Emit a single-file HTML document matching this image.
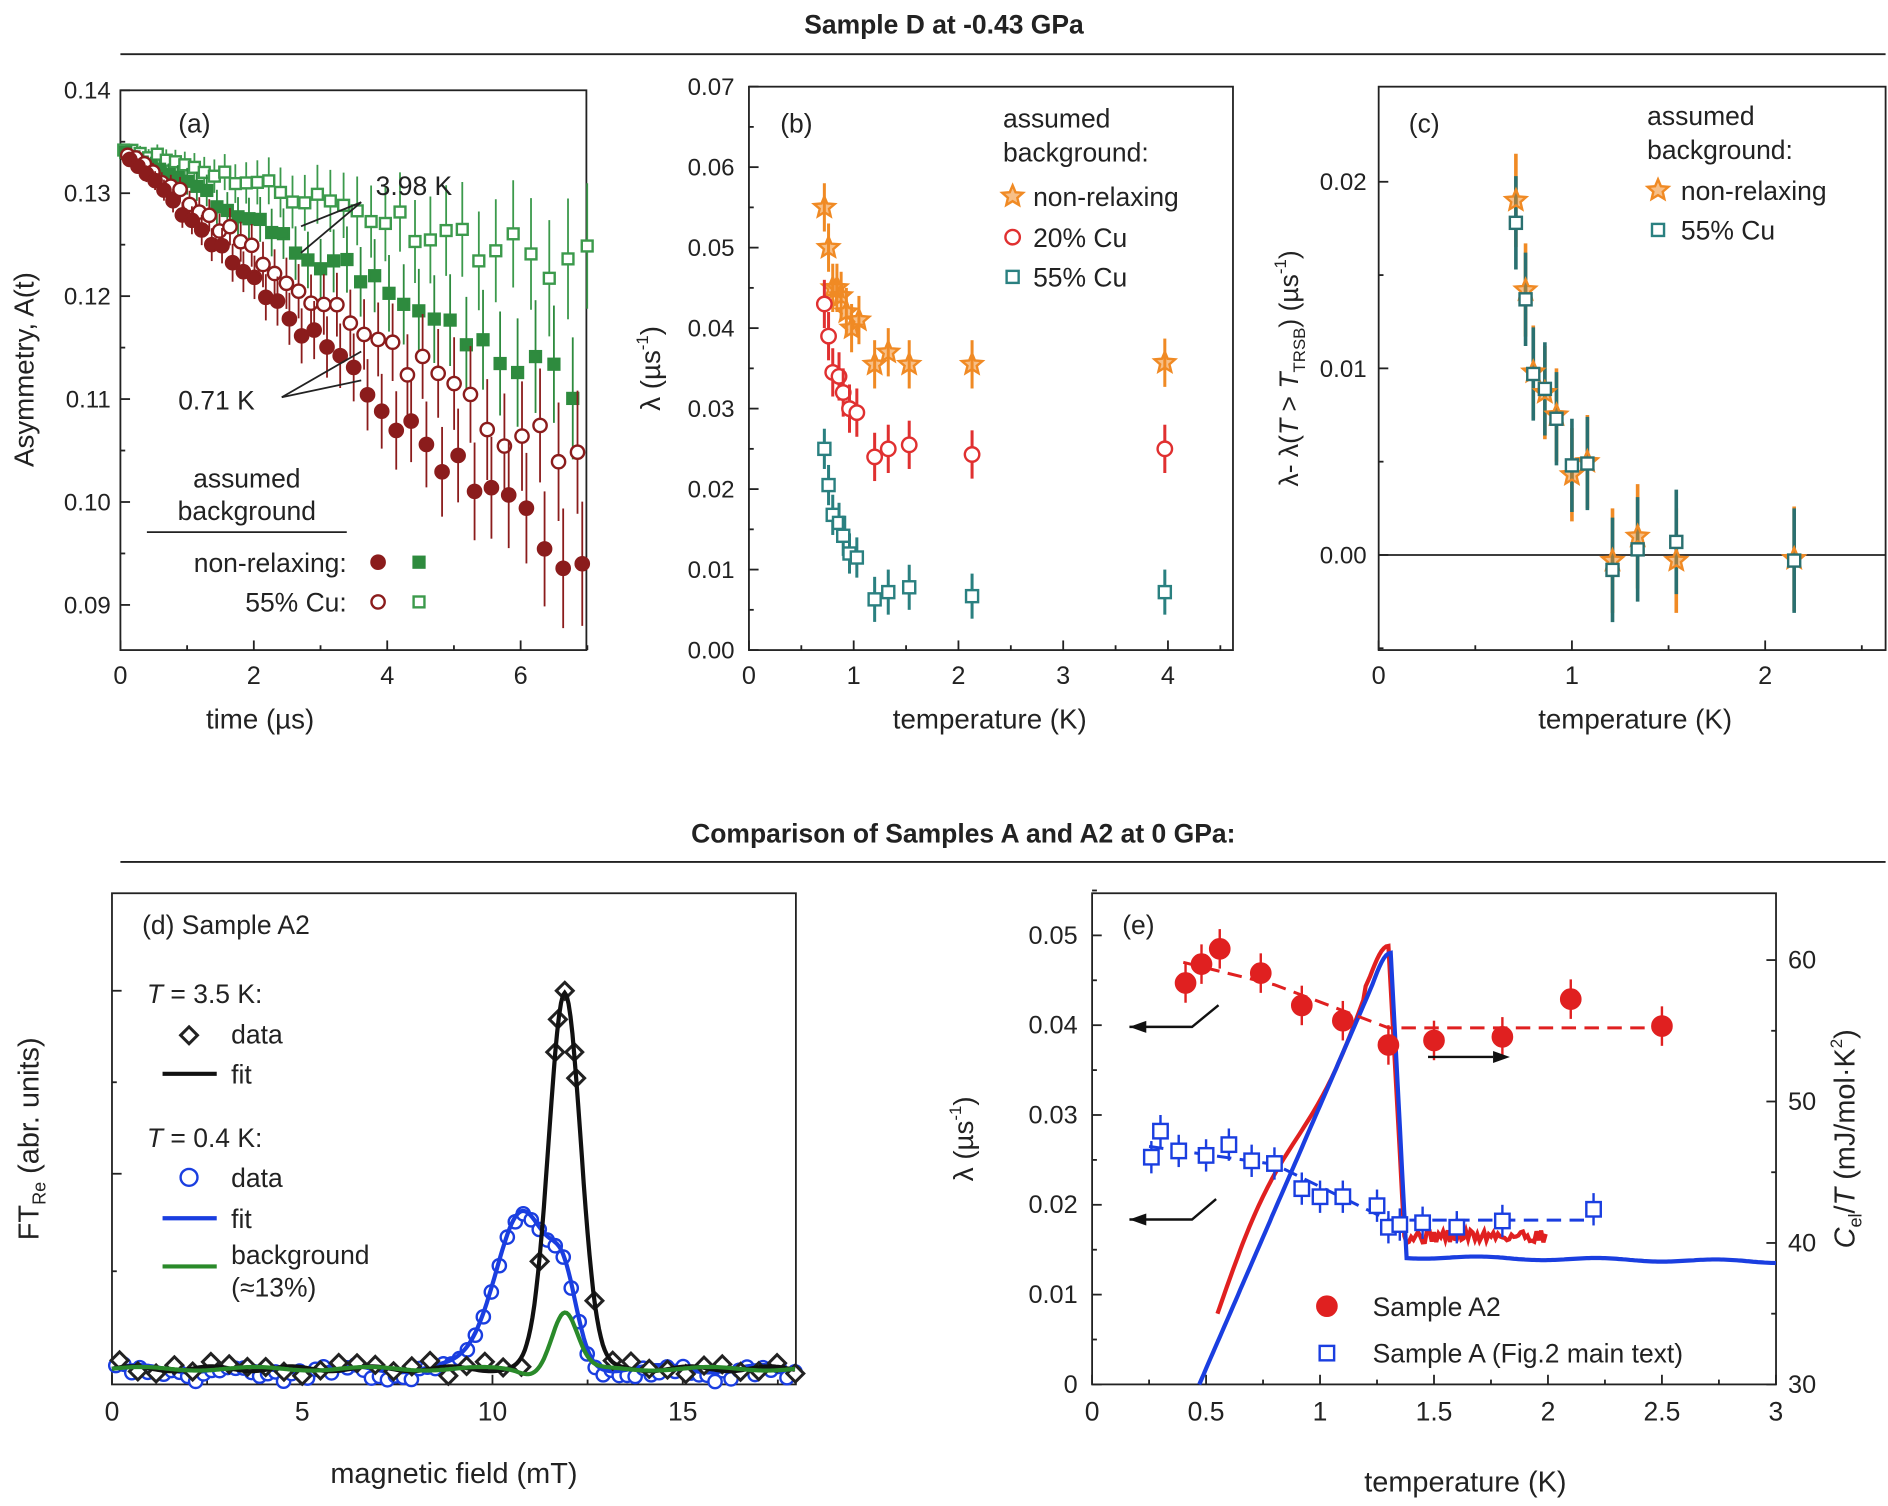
<!DOCTYPE html>
<html><head><meta charset="utf-8"><style>
html,body{margin:0;padding:0;background:#fff}
svg{display:block}
text{font-family:"Liberation Sans",Arial,sans-serif;fill:#222}
</style></head><body>
<svg id="s" width="1888" height="1506" viewBox="0 0 1568 1251" preserveAspectRatio="none" xmlns="http://www.w3.org/2000/svg">
<g font-size="22">
<text x="784" y="28" text-anchor="middle" font-weight="bold" font-size="22">Sample D at -0.43 GPa</text>
<line x1="100" y1="45" x2="1566" y2="45" stroke="#222" stroke-width="1.5"/>
<text x="800" y="700" text-anchor="middle" font-weight="bold" font-size="22">Comparison of Samples A and A2 at 0 GPa:</text>
<line x1="100" y1="716" x2="1566" y2="716" stroke="#222" stroke-width="1.5"/>
</g>
<g id="g"></g>
</svg>
<script>
var G=document.getElementById('g'),out='';
function a(s){out+=s;}
var seed=7;function rnd(){seed=(seed*16807)%2147483647;return seed/2147483647;}
function frame(x0,y0,x1,y1){a('<rect x="'+x0+'" y="'+y0+'" width="'+(x1-x0)+'" height="'+(y1-y0)+'" fill="none" stroke="#222" stroke-width="1.5"/>');}
function t(x,y,s,opt){a('<text x="'+x+'" y="'+y+'" '+(opt||'')+'>'+s+'</text>');}
function ln(x1,y1,x2,y2,c,w,extra){a('<line x1="'+x1+'" y1="'+y1+'" x2="'+x2+'" y2="'+y2+'" stroke="'+(c||'#222')+'" stroke-width="'+(w||1.5)+'" '+(extra||'')+'/>');}
function circ(x,y,r,c,fill){a('<circle cx="'+x+'" cy="'+y+'" r="'+r+'" fill="'+(fill?c:'#fff')+'" stroke="'+c+'" stroke-width="2"/>');}
function sq(x,y,h,c,fill){a('<rect x="'+(x-h)+'" y="'+(y-h)+'" width="'+2*h+'" height="'+2*h+'" fill="'+(fill?c:'#fff')+'" stroke="'+c+'" stroke-width="2"/>');}
function star(x,y,r,c){var p=[];for(var i=0;i<10;i++){var rr=i%2?r*0.45:r,an=-Math.PI/2+i*Math.PI/5;p.push((x+rr*Math.cos(an)).toFixed(1)+','+(y+rr*Math.sin(an)).toFixed(1));}a('<polygon points="'+p.join(' ')+'" fill="'+c+'" fill-opacity="0.55" stroke="'+c+'" stroke-width="2"/>');}
function diam(x,y,r,c){a('<polygon points="'+x+','+(y-r)+' '+(x+r)+','+y+' '+x+','+(y+r)+' '+(x-r)+','+y+'" fill="#fff" stroke="'+c+'" stroke-width="2.5"/>');}
function path(pts,c,w,extra){a('<polyline points="'+pts.map(function(p){return p[0].toFixed(1)+','+p[1].toFixed(1)}).join(' ')+'" fill="none" stroke="'+c+'" stroke-width="'+w+'" '+(extra||'')+'/>');}

/* ---------- (a) ---------- */
var AX=function(v){return 100+v*55.4},AY=function(v){return 75+(0.14-v)*8550};
frame(100,75,487,540);
[0,2,4,6].forEach(function(v){ln(AX(v),540,AX(v),532);t(AX(v),568,v,'text-anchor="middle" font-size="21"');});
[1,3,5,7].forEach(function(v){ln(AX(v),540,AX(v),536);});
[0.14,0.13,0.12,0.11,0.10,0.09].forEach(function(v){ln(100,AY(v),108,AY(v));t(92,AY(v)+7,v.toFixed(2),'text-anchor="end" font-size="20"');});
[0.135,0.125,0.115,0.105,0.095].forEach(function(v){ln(100,AY(v),104,AY(v));});
t(216,605,'time (µs)','text-anchor="middle" font-size="23"');
t(28,307,'Asymmetry, A(t)','text-anchor="middle" font-size="23" transform="rotate(-90 28 307)"');
t(148,110,'(a)','font-size="22"');
var ser=[[0.0132,'#3c9a4c',0,'sq'],[0.028,'#2e8b3e',1,'sq'],[0.039,'#8b1c1c',0,'c'],[0.052,'#8b1c1c',1,'c']];
ser.forEach(function(s,k){var tt=0.05+k*0.03;seed=11+k*5;while(tt<7){var v=0.1345*Math.exp(-s[0]*tt);var e=0.0005+0.0008*tt;v+=(rnd()-0.5)*e*0.8;var x=AX(tt),y=AY(v);ln(x,AY(v+e),x,AY(v-e),s[1],1.5);if(s[3]=='sq')sq(x,y,4.5,s[1],s[2]);else circ(x,y,5.5,s[1],s[2]);tt+=0.12+0.025*tt;}});
t(312,162,'3.98 K','font-size="22"');ln(300,168,250,188);ln(300,168,250,210);
t(148,340,'0.71 K','font-size="22"');ln(234,330,300,292);ln(234,330,300,316);
t(205,405,'assumed','text-anchor="middle" font-size="22"');t(205,432,'background','text-anchor="middle" font-size="22"');
ln(122,442,288,442);
t(288,475,'non-relaxing:','text-anchor="end" font-size="22"');t(288,508,'55% Cu:','text-anchor="end" font-size="22"');
circ(314,467,5.5,'#8b1c1c',1);sq(348,467,4.5,'#2e8b3e',1);circ(314,500,5.5,'#8b1c1c',0);sq(348,500,4.5,'#3c9a4c',0);

/* ---------- (b) ---------- */
var BX=function(v){return 622+v*87},BY=function(v){return 540-v*6686};
frame(622,72,1024,540);
[0,1,2,3,4].forEach(function(v){ln(BX(v),540,BX(v),532);t(BX(v),568,v,'text-anchor="middle" font-size="21"');});
[0.5,1.5,2.5,3.5,4.5].forEach(function(v){ln(BX(v),540,BX(v),536);});
for(var i=0;i<=7;i++){var v=i/100;ln(622,BY(v),630,BY(v));t(610,BY(v)+7,v.toFixed(2),'text-anchor="end" font-size="20"');if(i<7)ln(622,BY(v+0.005),626,BY(v+0.005));}
t(822,605,'temperature (K)','text-anchor="middle" font-size="23"');
a('<text x="548" y="306" text-anchor="middle" font-size="23" transform="rotate(-90 548 306)">λ (µs<tspan font-size="14" dy="-10">-1</tspan><tspan dy="10">)</tspan></text>');
t(648,110,'(b)','font-size="22"');
t(833,106,'assumed','font-size="22"');t(833,134,'background:','font-size="22"');
star(841,163,9,'#f08a24');t(858,171,'non-relaxing','font-size="22"');
circ(841,197,6,'#e03030',0);t(858,205,'20% Cu','font-size="22"');
sq(841,230,5,'#2a8080',0);t(858,238,'55% Cu','font-size="22"');
var Ts=[0.72,0.76,0.80,0.84,0.88,0.93,0.98,1.05,1.2,1.33,1.53,2.13,3.97];
var So=[0.055,0.050,0.045,0.045,0.044,0.042,0.040,0.041,0.0355,0.037,0.0355,0.0355,0.0357];
var Tr=[0.72,0.76,0.80,0.86,0.90,0.96,1.03,1.2,1.33,1.53,2.13,3.97];
var Sr=[0.043,0.039,0.0345,0.034,0.032,0.030,0.0295,0.024,0.025,0.0255,0.0243,0.025];
var St=[0.025,0.0205,0.0168,0.0158,0.0142,0.012,0.0115,0.0063,0.0072,0.0078,0.0067,0.0072];
Ts.forEach(function(T,i){ln(BX(T),BY(So[i]+0.003),BX(T),BY(So[i]-0.003),'#f08a24',2.5);star(BX(T),BY(So[i]),9,'#f08a24');});
Tr.forEach(function(T,i){ln(BX(T),BY(Sr[i]+0.003),BX(T),BY(Sr[i]-0.003),'#e03030',2.5);circ(BX(T),BY(Sr[i]),6,'#e03030',0);});
Tr.forEach(function(T,i){var e=i>6?0.0028:0.0025;ln(BX(T),BY(St[i]+e),BX(T),BY(St[i]-e),'#2a8080',2.5);sq(BX(T),BY(St[i]),5,'#2a8080',0);});

/* ---------- (c) ---------- */
var CX=function(v){return 1145+v*160.5},CY=function(v){return 461-v*15500};
frame(1145,72,1566,540);
[0,1,2].forEach(function(v){ln(CX(v),540,CX(v),532);t(CX(v),568,v,'text-anchor="middle" font-size="21"');});
[0.5,1.5,2.5].forEach(function(v){ln(CX(v),540,CX(v),536);});
[0,0.01,0.02].forEach(function(v){ln(1145,CY(v),1153,CY(v));t(1135,CY(v)+7,v.toFixed(2),'text-anchor="end" font-size="20"');});
[-0.005,0.005,0.015].forEach(function(v){ln(1145,CY(v),1149,CY(v));});
ln(1145,461,1566,461,'#222',1.5);
t(1358,605,'temperature (K)','text-anchor="middle" font-size="23"');
a('<text x="1078" y="306" text-anchor="middle" font-size="22" transform="rotate(-90 1078 306)">λ- λ(<tspan font-style="italic">T</tspan> &gt; <tspan font-style="italic">T</tspan><tspan font-size="14" dy="6">TRSB</tspan><tspan dy="-6">) (µs</tspan><tspan font-size="14" dy="-10">-1</tspan><tspan dy="10">)</tspan></text>');
t(1170,110,'(c)','font-size="22"');
t(1368,104,'assumed','font-size="22"');t(1368,132,'background:','font-size="22"');
star(1377,158,9,'#f08a24');t(1396,166,'non-relaxing','font-size="22"');
sq(1377,191,5,'#2a8080',0);t(1396,199,'55% Cu','font-size="22"');
var Tc=[0.71,0.76,0.80,0.86,0.92,1.0,1.08,1.21,1.34,1.54,2.15];
var Cs=[0.019,0.0142,0.0098,0.0087,0.0075,0.0043,0.0050,-0.0003,0.001,-0.0003,-0.0002];
var Cq=[0.0178,0.0137,0.0097,0.0089,0.0073,0.0048,0.0049,-0.0008,0.0003,0.0007,-0.0003];
Tc.forEach(function(T,i){var e=0.0025+(i>6?0.0003:0);ln(CX(T),CY(Cs[i]+e),CX(T),CY(Cs[i]-e),'#f08a24',3);});
Tc.forEach(function(T,i){var e=0.0025+(i>6?0.0003:0);ln(CX(T),CY(Cq[i]+e),CX(T),CY(Cq[i]-e),'#2a7070',3);});
Tc.forEach(function(T,i){star(CX(T),CY(Cs[i]),9,'#f08a24');});
Tc.forEach(function(T,i){sq(CX(T),CY(Cq[i]),5,'#2a7070',0);});

/* ---------- (d) ---------- */
var DX=function(v){return 93+v*31.6};
frame(93,742,661,1150);
[0,5,10,15].forEach(function(v){ln(DX(v),1150,DX(v),1142);t(DX(v),1180,v,'text-anchor="middle" font-size="22"');});
[2.5,7.5,12.5,17.5].forEach(function(v){ln(DX(v),1150,DX(v),1146);});
[823,975,1137].forEach(function(y){ln(93,y,101,y);});[899,1056].forEach(function(y){ln(93,y,97,y);});
t(377,1232,'magnetic field (mT)','text-anchor="middle" font-size="24"');
a('<text x="32" y="946" text-anchor="middle" font-size="24" transform="rotate(-90 32 946)">FT<tspan font-size="15" dy="6">Re</tspan><tspan dy="-6"> (abr. units)</tspan></text>');
t(118,776,'(d) Sample A2','font-size="22"');
a('<text x="122" y="833" font-size="22"><tspan font-style="italic">T</tspan> = 3.5 K:</text>');
diam(157,860,7,'#222');t(192,867,'data','font-size="22"');
ln(135,892,180,892,'#111',3.5);t(192,900,'fit','font-size="22"');
a('<text x="122" y="953" font-size="22"><tspan font-style="italic">T</tspan> = 0.4 K:</text>');
circ(157,978,7,'#1a3ee0',0);t(192,986,'data','font-size="22"');
ln(135,1012,180,1012,'#1a3ee0',3.5);t(192,1020,'fit','font-size="22"');
ln(135,1052,180,1052,'#2a8a2a',3.5);t(192,1050,'background','font-size="22"');t(192,1077,'(≈13%)','font-size="22"');
var base=1137;
function gB(x){return 314*Math.exp(-Math.pow((x-11.9)/0.42,2)/2);}
function gG(x){return 47*Math.exp(-Math.pow((x-11.9)/0.33,2)/2)-4*Math.exp(-Math.pow((x-11.0)/0.3,2)/2);}
function gL(x){return 135*Math.exp(-Math.pow((x-10.8)/0.72,2)/2)+gG(x)+3*Math.sin(x*2.3);}
var pb=[],pg=[],pl=[];
for(var x=0;x<=18;x+=0.05){pb.push([DX(x),base-gB(x)-2*Math.sin(x*3)]);pg.push([DX(x),base-gG(x)-1.5*Math.sin(x*2.1)]);pl.push([DX(x),base-gL(x)]);}
seed=99;
for(var x=0.1;x<18;x+=0.21){var n=(rnd()-0.5)*10;circ(DX(x),base-gL(x)+n*(x>9&&x<13?0.3:1)+3,5.5,'#1a3ee0',0);}
path(pl,'#1a3ee0',3.5);
seed=5;
for(var x=0.2;x<18;x+=0.48){var n=(rnd()-0.5)*14;diam(DX(x),base-gB(x)+n,7,'#222');}
[11.65,12.15,11.9].forEach(function(x){diam(DX(x),base-gB(x),7,'#222');});
path(pb,'#111',3.5);path(pg,'#2a8a2a',3.5);

/* ---------- (e) ---------- */
var EX=function(v){return 907+v*189.3},EY=function(v){return 1150-v*7460},ER=function(v){return 1150-(v-30)*11.75};
frame(907,742,1475,1150);
[0,0.5,1,1.5,2,2.5,3].forEach(function(v){ln(EX(v),1150,EX(v),1142);t(EX(v),1180,v,'text-anchor="middle" font-size="22"');});
[0.25,0.75,1.25,1.75,2.25,2.75].forEach(function(v){ln(EX(v),1150,EX(v),1146);});
for(var i=0;i<=5;i++){var v=i/100;ln(907,EY(v),915,EY(v));t(895,EY(v)+7,i?v.toFixed(2):'0','text-anchor="end" font-size="21"');ln(907,EY(v+0.005),911,EY(v+0.005));}
[30,40,50,60].forEach(function(v){ln(1475,ER(v),1467,ER(v));t(1485,ER(v)+7,v,'font-size="21"');});
[35,45,55].forEach(function(v){ln(1475,ER(v),1471,ER(v));});
t(1217,1239,'temperature (K)','text-anchor="middle" font-size="24"');
a('<text x="808" y="946" text-anchor="middle" font-size="23" transform="rotate(-90 808 946)">λ (µs<tspan font-size="14" dy="-10">-1</tspan><tspan dy="10">)</tspan></text>');
a('<text x="1540" y="946" text-anchor="middle" font-size="24" transform="rotate(-90 1540 946)"><tspan font-style="italic">C</tspan><tspan font-size="15" dy="6">el</tspan><tspan dy="-6">/</tspan><tspan font-style="italic">T</tspan> (mJ/mol·K<tspan font-size="14" dy="-10">2</tspan><tspan dy="10">)</tspan></text>');
t(932,776,'(e)','font-size="22"');
// Cel/T curves
function peakCurve(T0,v0,Tp,vp,Td,vf){return function(T){if(T<Tp-0.06)return v0+(T-T0)/(Tp-T0)*(vp-v0);if(T<Tp+0.02){var u=(T-(Tp-0.06))/0.08;return v0+(Tp-0.06-T0)/(Tp-T0)*(vp-v0)+(vp-(v0+(Tp-0.06-T0)/(Tp-T0)*(vp-v0)))*Math.sin(u*Math.PI/2);}if(T<Td)return vp-(T-Tp-0.02)/(Td-Tp-0.02)*(vp-vf);return vf;};}
var fr=peakCurve(0.55,35,1.28,61,1.37,40.5),fb=peakCurve(0.47,30,1.29,60.5,1.38,39);
var rc=[],bc=[];seed=31;
for(var T=0.55;T<=2.0;T+=0.01){var v=fr(T);if(T<1.2)v+=1.2*Math.sin((T-0.55)*9);if(T>1.38)v+=(rnd()-0.5)*1.0;rc.push([EX(T),ER(v)]);}
for(var T=0.47;T<=3.0;T+=0.01){var v=fb(T);if(T>1.38)v=39-(T-1.4)*0.2+0.1*Math.sin(T*12);bc.push([EX(T),ER(v)]);}
path(rc,'#e02020',3.5);path(bc,'#1a3ee0',3.5);
// dashed lines
path([[EX(0.4),EY(0.047)],[EX(0.8),EY(0.0445)],[EX(1.3),EY(0.0397)],[EX(2.5),EY(0.0397)]],'#e02020',2.5,'stroke-dasharray="12 7"');
path([[EX(0.25),EY(0.0265)],[EX(0.8),EY(0.0245)],[EX(1.3),EY(0.0183)],[EX(2.2),EY(0.0183)]],'#1a3ee0',2.5,'stroke-dasharray="12 7"');
var RP=[[0.41,0.0447],[0.48,0.0468],[0.56,0.0485],[0.74,0.0458],[0.92,0.0422],[1.1,0.0405],[1.3,0.0378],[1.5,0.0383],[1.8,0.0387],[2.1,0.0429],[2.5,0.0399]];
RP.forEach(function(p){ln(EX(p[0]),EY(p[1]+0.0022),EX(p[0]),EY(p[1]-0.0022),'#e02020',2);circ(EX(p[0]),EY(p[1]),8,'#e02020',1);});
var BP=[[0.26,0.0253],[0.3,0.0282],[0.38,0.026],[0.5,0.0255],[0.6,0.0267],[0.7,0.0249],[0.8,0.0246],[0.92,0.0218],[1.0,0.0209],[1.1,0.0209],[1.25,0.0199],[1.3,0.0175],[1.35,0.0178],[1.45,0.018],[1.6,0.0175],[1.8,0.0182],[2.2,0.0195]];
BP.forEach(function(p){ln(EX(p[0]),EY(p[1]+0.0018),EX(p[0]),EY(p[1]-0.0018),'#1a3ee0',2);sq(EX(p[0]),EY(p[1]),6,'#1a3ee0',0);});
// arrows
function arrowL(x1,x2,y,hx,hy){path([[hx,hy],[x2,y],[x1,y]],'#111',2);a('<polygon points="'+x1+','+y+' '+(x1+14)+','+(y-5)+' '+(x1+14)+','+(y+5)+'" fill="#111"/>');}
arrowL(938,990,853,1012,835);arrowL(938,990,1013,1010,996);
ln(1186,878,1240,878,'#111',2);a('<polygon points="1254,878 1240,873 1240,883" fill="#111"/>');
circ(1102,1085,8,'#e02020',1);t(1140,1093,'Sample A2','font-size="22"');
sq(1102,1124,6,'#1a3ee0',0);t(1140,1132,'Sample A (Fig.2 main text)','font-size="22"');
G.innerHTML=out;
</script>
</body></html>
